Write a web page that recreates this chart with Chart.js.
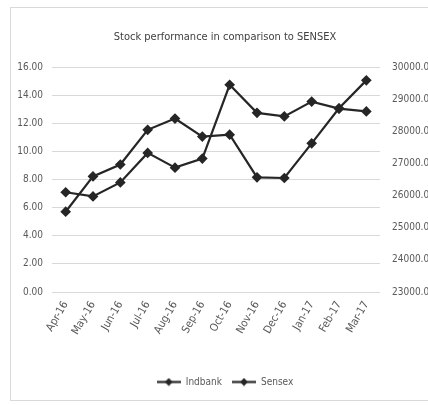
<!DOCTYPE html>
<html><head><meta charset="utf-8">
<script src="https://cdn.jsdelivr.net/npm/chart.js@4"></script>
<style>
html,body{margin:0;padding:0;background:#fff;overflow:hidden;}
#wrap{position:relative;width:428px;height:405px;}
#frame{position:absolute;left:10px;top:7px;width:440px;height:394px;border:1px solid #d9d9d9;box-sizing:border-box;}
canvas{position:absolute;left:0;top:0;}
</style></head><body>
<div id="wrap"><div id="frame"></div><canvas id="c" width="428" height="405"></canvas></div>
<script>
const categories = ["Apr-16","May-16","Jun-16","Jul-16","Aug-16","Sep-16","Oct-16","Nov-16","Dec-16","Jan-17","Feb-17","Mar-17"];
const indbank = [7.10, 6.80, 7.80, 9.90, 8.85, 9.50, 14.75, 12.75, 12.50, 13.55, 13.05, 12.85];
const sensex = [25500, 26600, 26970, 28050, 28400, 27840, 27900, 26570, 26550, 27630, 28720, 29590];
const leftAxis = {min: 0, max: 16, step: 2};
const rightAxis = {min: 23000, max: 30000, step: 1000};
const seriesNames = ["Indbank", "Sensex"];
const chartTitle = "Stock performance in comparison to SENSEX";

const FONT = "'Liberation Sans Narrow','DejaVu Sans Condensed','Liberation Sans',sans-serif";
const LINE = '#262626';
const TXT = '#595959';

function legendIcon(){
  const cv = document.createElement('canvas');
  cv.width = 24; cv.height = 9;
  const g = cv.getContext('2d');
  g.strokeStyle = LINE; g.lineWidth = 2.2;
  g.beginPath(); g.moveTo(0,4.5); g.lineTo(24,4.5); g.stroke();
  g.fillStyle = LINE;
  g.beginPath(); g.moveTo(12,0.5); g.lineTo(16,4.5); g.lineTo(12,8.5); g.lineTo(8,4.5); g.closePath(); g.fill();
  return cv;
}
const icon = legendIcon();

const shiftBoxes = {
  id: 'shiftBoxes',
  afterLayout(chart) {
    const dx = 11;
    for (const b of [chart.titleBlock, chart.legend]) {
      if (b) { b.left += dx; b.right += dx; }
    }
  }
};

new Chart(document.getElementById('c'), {
  type: 'line',
  data: {
    labels: categories,
    datasets: [
      {label: seriesNames[0], data: indbank, yAxisID: 'y', borderColor: LINE, backgroundColor: LINE,
       borderWidth: 2.2, pointStyle: 'rectRot', pointRadius: 3.8, pointBackgroundColor: LINE, pointBorderColor: LINE, tension: 0},
      {label: seriesNames[1], data: sensex, yAxisID: 'y1', borderColor: LINE, backgroundColor: LINE,
       borderWidth: 2.2, pointStyle: 'rectRot', pointRadius: 3.8, pointBackgroundColor: LINE, pointBorderColor: LINE, tension: 0}
    ]
  },
  plugins: [shiftBoxes],
  options: {
    responsive: false,
    animation: false,
    devicePixelRatio: 1,
    layout: {padding: {left: 0, right: 0, top: 0, bottom: 8}},
    plugins: {
      title: {display: true, text: chartTitle, color: '#404040',
              font: {family: FONT, size: 11, weight: 'normal'}, padding: {top: 31, bottom: 23}},
      legend: {position: 'bottom',
        labels: {color: TXT, font: {family: FONT, size: 10}, usePointStyle: true, pointStyleWidth: 24, boxHeight: 9, padding: 10,
          generateLabels: (chart) => chart.data.datasets.map((d, i) => ({text: d.label, pointStyle: icon, fillStyle: LINE, strokeStyle: LINE, lineWidth: 0, datasetIndex: i, fontColor: TXT}))}
      },
      tooltip: {enabled: false}
    },
    scales: {
      x: {
        offset: true,
        grid: {display: false, drawTicks: false},
        border: {display: false},
        ticks: {color: TXT, font: {family: FONT, size: 11}, maxRotation: 60, minRotation: 60, padding: 7, autoSkip: false},
        afterFit: (s) => { s.height = 75; }
      },
      y: {
        position: 'left', min: leftAxis.min, max: leftAxis.max,
        grid: {color: '#d9d9d9', drawTicks: false},
        border: {display: false},
        ticks: {stepSize: leftAxis.step, color: TXT, font: {family: FONT, size: 10}, padding: 9,
                callback: (v) => Number(v).toFixed(2)},
        afterFit: (s) => { s.width = 52; }
      },
      y1: {
        position: 'right', min: rightAxis.min, max: rightAxis.max,
        grid: {display: false, drawTicks: false},
        border: {display: false},
        ticks: {stepSize: rightAxis.step, color: TXT, font: {family: FONT, size: 10}, padding: 12,
                callback: (v) => Number(v).toFixed(2)},
        afterFit: (s) => { s.width = 48; }
      }
    }
  }
});
</script>
</body></html>
